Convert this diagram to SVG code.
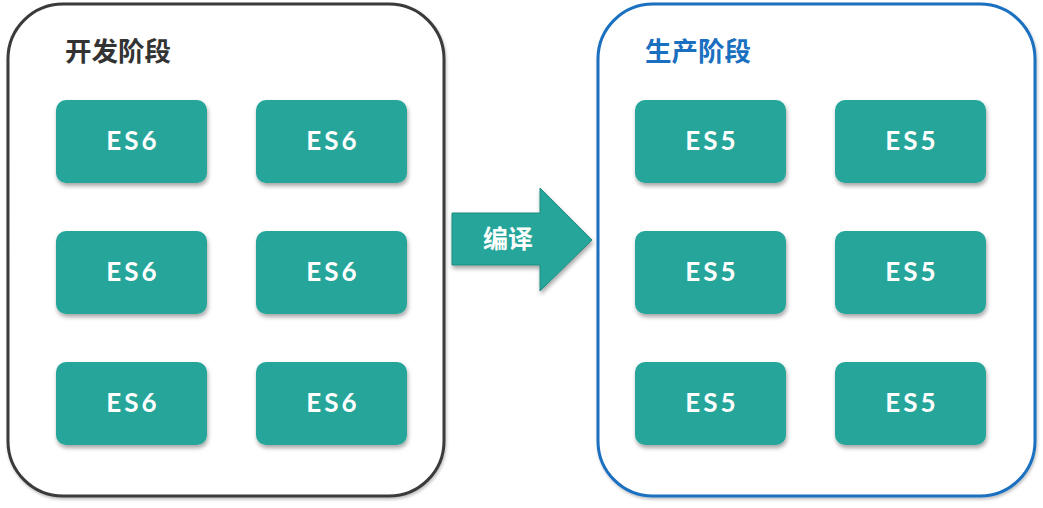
<svg xmlns="http://www.w3.org/2000/svg" width="1043" height="508" viewBox="0 0 1043 508">
<defs>
<filter id="sh" x="-20%" y="-20%" width="140%" height="150%">
<feDropShadow dx="1" dy="3" stdDeviation="2" flood-color="#000" flood-opacity="0.35"/>
</filter>
<filter id="shc" x="-5%" y="-5%" width="110%" height="110%">
<feDropShadow dx="1" dy="2" stdDeviation="1.5" flood-color="#000" flood-opacity="0.25"/>
</filter>
</defs>
<style>
.box{fill:#26a69a;filter:url(#sh)}
.lbl{font-family:"Lato","Noto Sans",sans-serif;font-weight:bold;font-size:26px;fill:#fff;letter-spacing:3px;text-anchor:middle}
.title{font-family:"Noto Sans CJK SC",sans-serif;font-weight:bold;font-size:26.5px}
</style>
<rect width="1043" height="508" fill="#fff"/>
<g id="dev">
<rect x="8" y="4" width="436" height="492" rx="55" fill="#fff" stroke="#3a3a3a" stroke-width="3" filter="url(#shc)"/>
<text class="title" x="65" y="61" fill="#333">开发阶段</text>
</g>
<g id="prod">
<rect x="598" y="4" width="437" height="492" rx="55" fill="#fff" stroke="#1a6fc0" stroke-width="3" filter="url(#shc)"/>
<text class="title" x="645" y="61" fill="#1a6fc0">生产阶段</text>
</g>
<g id="d1"><rect class="box" x="56" y="100" width="151" height="83" rx="10"/><text class="lbl" x="133" y="150">ES6</text></g>
<g id="d2"><rect class="box" x="256" y="100" width="151" height="83" rx="10"/><text class="lbl" x="333" y="150">ES6</text></g>
<g id="d3"><rect class="box" x="56" y="231" width="151" height="83" rx="10"/><text class="lbl" x="133" y="281">ES6</text></g>
<g id="d4"><rect class="box" x="256" y="231" width="151" height="83" rx="10"/><text class="lbl" x="333" y="281">ES6</text></g>
<g id="d5"><rect class="box" x="56" y="362" width="151" height="83" rx="10"/><text class="lbl" x="133" y="412">ES6</text></g>
<g id="d6"><rect class="box" x="256" y="362" width="151" height="83" rx="10"/><text class="lbl" x="333" y="412">ES6</text></g>
<g id="p1"><rect class="box" x="635" y="100" width="151" height="83" rx="10"/><text class="lbl" x="712" y="150">ES5</text></g>
<g id="p2"><rect class="box" x="835" y="100" width="151" height="83" rx="10"/><text class="lbl" x="912" y="150">ES5</text></g>
<g id="p3"><rect class="box" x="635" y="231" width="151" height="83" rx="10"/><text class="lbl" x="712" y="281">ES5</text></g>
<g id="p4"><rect class="box" x="835" y="231" width="151" height="83" rx="10"/><text class="lbl" x="912" y="281">ES5</text></g>
<g id="p5"><rect class="box" x="635" y="362" width="151" height="83" rx="10"/><text class="lbl" x="712" y="412">ES5</text></g>
<g id="p6"><rect class="box" x="835" y="362" width="151" height="83" rx="10"/><text class="lbl" x="912" y="412">ES5</text></g>
<g id="connectors">
<path d="M452 213 H540 V188 L592 240 L540 291 V265 H452 Z" fill="#26a69a" stroke="#1f8a80" stroke-width="1" filter="url(#sh)"/>
<text x="508" y="248" font-family="Noto Sans CJK SC,sans-serif" font-weight="bold" font-size="25" fill="#fff" text-anchor="middle">编译</text>
</g>
</svg>
